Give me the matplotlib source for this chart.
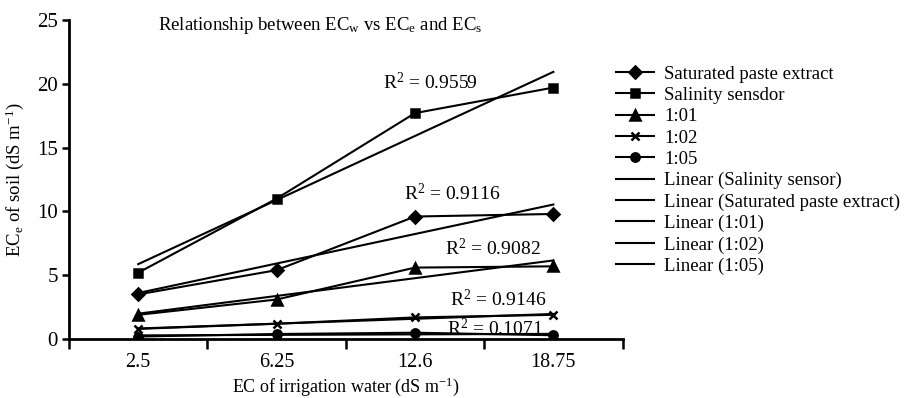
import matplotlib
matplotlib.use("Agg")
import matplotlib.pyplot as plt
import numpy as np

plt.rcParams['font.family'] = ['Liberation Serif', 'DejaVu Serif']
plt.rcParams['mathtext.fontset'] = 'custom'
plt.rcParams['mathtext.rm'] = 'Liberation Serif'
plt.rcParams['mathtext.it'] = 'Liberation Serif:italic'

# Data
x_labels = ["2.5", "6.25", "12.6", "18.75"]
saturated_paste = [3.5, 5.4, 9.6, 9.8]
salinity_sensor = [5.2, 11.0, 17.7, 19.7]
ratio_1_01 = [1.9, 3.1, 5.6, 5.7]
ratio_1_02 = [0.8, 1.2, 1.7, 1.9]
ratio_1_05 = [0.2, 0.4, 0.5, 0.3]
r2_labels = ["0.9559", "0.9116", "0.9082", "0.9146", "0.1071"]

xpos = np.arange(1, len(x_labels) + 1)

fig = plt.figure(figsize=(9.09, 3.98), dpi=100)
ax = fig.add_axes([0.0759, 0.148, 0.609, 0.802])

# Data series with markers
series = [
    ("Saturated paste extract", saturated_paste, "D", 6),
    ("Salinity sensdor", salinity_sensor, "s", 6),
    ("1:01", ratio_1_01, "^", 6.5),
    ("1:02", ratio_1_02, "x", 5.5),
    ("1:05", ratio_1_05, "o", 6),
]
handles = []
for name, vals, mk, ms in series:
    h, = ax.plot(xpos, vals, color="black", lw=1.5, marker=mk, ms=ms,
                 mew=1.8, label=name)
    handles.append(h)

# Linear trend lines (fit on category positions, like a spreadsheet trendline)
trend_order = [
    ("Linear (Salinity sensor)", salinity_sensor),
    ("Linear (Saturated paste extract)", saturated_paste),
    ("Linear (1:01)", ratio_1_01),
    ("Linear (1:02)", ratio_1_02),
    ("Linear (1:05)", ratio_1_05),
]
for name, vals in trend_order:
    k, b = np.polyfit(xpos, vals, 1)
    h, = ax.plot(xpos, k * xpos + b, color="black", lw=1.5, label=name)
    handles.append(h)

# R squared annotations
r2_pos = [(3.11, 20.1), (3.27, 11.4), (3.56, 7.1), (3.6, 3.1), (3.58, 0.86)]
for (tx, ty), r2 in zip(r2_pos, r2_labels):
    ax.text(tx, ty, r"R$^2$ = " + r2, ha="center", va="center", fontsize=14)

ax.set_xlim(0.5, 4.5)
ax.set_ylim(0, 25)
ax.set_xticks(xpos)
ax.set_xticklabels(x_labels)
ax.set_xticks(np.arange(0.5, 4.6, 1), minor=True)
ax.set_yticks(np.arange(0, 26, 5))
ax.tick_params(axis="x", which="major", length=0, pad=10, labelsize=14.5)
ax.tick_params(axis="x", which="minor", length=7, width=1.8, direction="out")
ax.tick_params(axis="y", length=5, width=1.8, direction="out", labelsize=15, pad=3)

for side in ["top", "right"]:
    ax.spines[side].set_visible(False)
for side in ["left", "bottom"]:
    ax.spines[side].set_linewidth(2)

ax.set_xlabel(r"EC of irrigation water (dS m$^{-1}$)", fontsize=13)
ax.xaxis.set_label_coords(0.5, -0.115)
ax.set_ylabel(r"EC$_{\rm e}$ of soil (dS m$^{-1}$)", fontsize=13.5, labelpad=8)

fig.text(0.174, 0.935, r"Relationship between EC$_{\rm w}$ vs EC$_{\rm e}$ and EC$_{\rm s}$",
         fontsize=13.5, ha="left", va="center")

fig.legend(handles=handles, loc="upper left", bbox_to_anchor=(0.678, 0.835),
           frameon=False, fontsize=13.5, handlelength=2.0, handletextpad=0.55,
           labelspacing=0.22, borderpad=0, borderaxespad=0)

fig.savefig("out.png", dpi=100)
